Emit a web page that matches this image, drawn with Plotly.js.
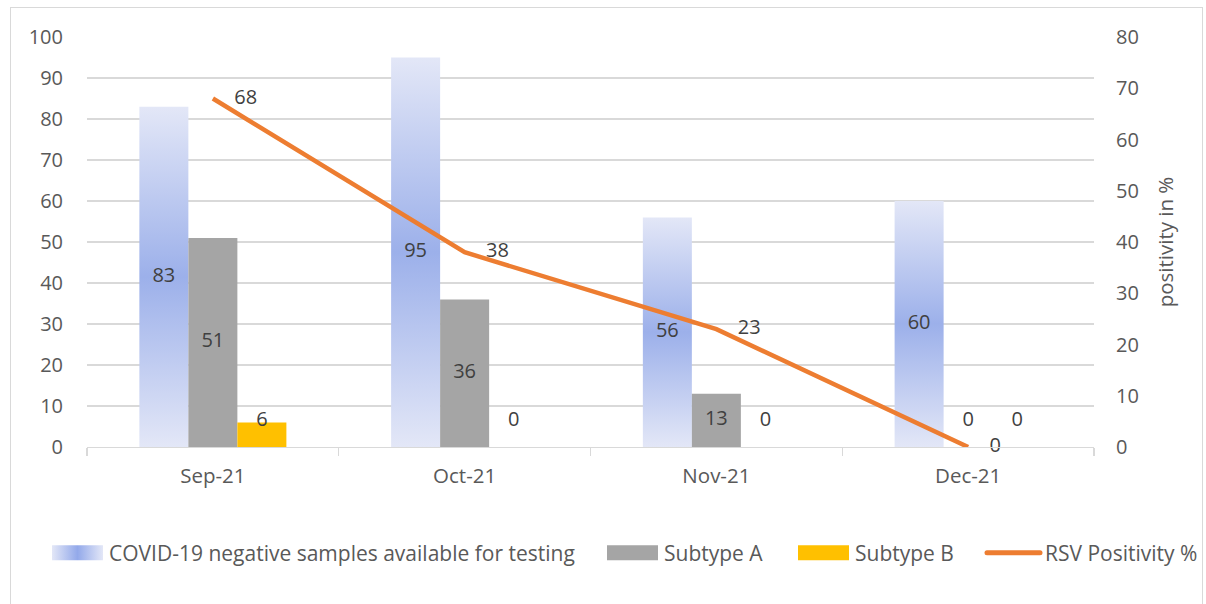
<!DOCTYPE html>
<html>
<head>
<meta charset="utf-8">
<script src="https://cdn.plot.ly/plotly-3.0.1.min.js"></script>
<style>
  html, body { margin: 0; padding: 0; background: #ffffff; }
  #wrap { position: relative; width: 1206px; height: 604px; overflow: hidden; }
  #frame { position: absolute; left: 10px; top: 7px; width: 1193px; height: 610px; border: 1px solid #d9d9d9; box-sizing: border-box; pointer-events: none; z-index: 2; }
  #chart { position: absolute; left: 0; top: 0; width: 1206px; height: 604px; }
</style>
</head>
<body>
<div id="wrap">
  <div id="chart"></div>
  <div id="frame"></div>
</div>
<script>
// ---- data ----
const months = ["Sep-21", "Oct-21", "Nov-21", "Dec-21"];
const covidNegative = [83, 95, 56, 60];
const subtypeA = [51, 36, 13, 0];
const subtypeB = [6, 0, 0, 0];
const rsvPositivity = [68, 38, 23, 0];
const leftTicks = [0, 10, 20, 30, 40, 50, 60, 70, 80, 90, 100];
const rightTicks = [0, 10, 20, 30, 40, 50, 60, 70, 80];
const seriesNames = ["COVID-19 negative samples available for testing", "Subtype A", "Subtype B", "RSV Positivity %"];

// ---- styling ----
const BARGAP = 0.416;
const LABEL_FLOOR = 6.3;        // Excel keeps small-bar labels from sinking below this level
const LINE_LABEL_SHIFT = 0.085; // gap between line point and its label, in category units
const FONT = "Open Sans, Noto Sans, sans-serif";
const LABEL_COLOR = "#404040";
const AXIS_COLOR = "#595959";
const W = 1206, H = 604;
const legendLefts = [46, 601, 792, 982]; // pixel left edge of each legend entry
const LEGEND_MID_Y = 553;                // pixel centre line of the legend row

const barW = (1 - BARGAP) / 3;
const idx = months.map((m, i) => i);
function labelTrace(values, k) {
  return {
    type: "scatter", mode: "text", xaxis: "x2", yaxis: "y",
    x: idx.map(i => i + (k - 1) * barW),
    y: values.map(v => Math.max(v / 2, LABEL_FLOOR)),
    text: values.map(String),
    textposition: "middle center",
    textfont: { family: FONT, size: 20, color: LABEL_COLOR },
    showlegend: false, hoverinfo: "skip", cliponaxis: false
  };
}

const traces = [
  { type: "bar", name: seriesNames[0], x: months, y: covidNegative, legend: "legend",
    marker: { color: "#a9b9ea" }, textposition: "none", hoverinfo: "y" },
  { type: "bar", name: seriesNames[1], x: months, y: subtypeA, legend: "legend2",
    marker: { color: "#a5a5a5" }, textposition: "none", hoverinfo: "y" },
  { type: "bar", name: seriesNames[2], x: months, y: subtypeB, legend: "legend3",
    marker: { color: "#ffc000" }, textposition: "none", hoverinfo: "y" },
  { type: "scatter", mode: "lines", name: seriesNames[3], x: months, y: rsvPositivity, yaxis: "y2", legend: "legend4",
    line: { color: "#ed7d31", width: 4.5 }, cliponaxis: false },
  { type: "scatter", mode: "text", xaxis: "x2", yaxis: "y2",
    x: idx.map(i => i + LINE_LABEL_SHIFT), y: rsvPositivity,
    text: rsvPositivity.map(String), textposition: "middle right",
    textfont: { family: FONT, size: 20, color: LABEL_COLOR },
    showlegend: false, hoverinfo: "skip", cliponaxis: false },
  labelTrace(covidNegative, 0),
  labelTrace(subtypeA, 1),
  labelTrace(subtypeB, 2)
];

function legendAt(px) {
  return { orientation: "h", xref: "container", yref: "container",
           x: px / W, xanchor: "left", y: 1 - LEGEND_MID_Y / H, yanchor: "middle",
           itemwidth: 53, bgcolor: "rgba(0,0,0,0)",
           font: { family: FONT, size: 21, color: AXIS_COLOR } };
}

const layout = {
  width: W, height: H,
  margin: { l: 87, r: 112, t: 37, b: 157 },
  paper_bgcolor: "#ffffff", plot_bgcolor: "#ffffff",
  font: { family: FONT, size: 20, color: AXIS_COLOR },
  barmode: "group", bargap: BARGAP, bargroupgap: 0,
  showlegend: true,
  legend: legendAt(legendLefts[0]),
  legend2: legendAt(legendLefts[1]),
  legend3: legendAt(legendLefts[2]),
  legend4: legendAt(legendLefts[3]),
  xaxis: {
    type: "category", showgrid: false, zeroline: false, automargin: false,
    showline: true, linecolor: "#d9d9d9", linewidth: 1.3,
    ticks: "outside", tickson: "boundaries", ticklen: 8, tickcolor: "#d9d9d9", tickwidth: 1.3,
    ticklabelstandoff: 10,
    tickfont: { family: FONT, size: 20.5, color: AXIS_COLOR }
  },
  xaxis2: { overlaying: "x", range: [-0.5, months.length - 0.5], visible: false, fixedrange: true },
  yaxis: {
    range: [0, 100], tickvals: leftTicks, ticktext: leftTicks.map(String), automargin: false,
    showgrid: true, gridcolor: "#d9d9d9", gridwidth: 1.3, zeroline: false, showline: false,
    ticks: "", ticklabelstandoff: 23,
    tickfont: { family: FONT, size: 20, color: AXIS_COLOR }
  },
  yaxis2: {
    overlaying: "y", side: "right", range: [0, 80], tickvals: rightTicks, ticktext: rightTicks.map(String),
    automargin: false,
    showgrid: false, zeroline: false, showline: false, ticks: "", ticklabelstandoff: 21,
    tickfont: { family: FONT, size: 20, color: AXIS_COLOR },
    title: { text: "positivity in %", font: { family: FONT, size: 20.5, color: AXIS_COLOR }, standoff: 20 }
  }
};

function ensureGradients(gd) {
  const svg = gd.querySelector("svg.main-svg");
  if (!svg) return;
  const ns = "http://www.w3.org/2000/svg";
  let defs = svg.querySelector("defs");
  if (!defs) { defs = document.createElementNS(ns, "defs"); svg.insertBefore(defs, svg.firstChild); }
  if (!defs.querySelector("#covGradV")) {
    const g = document.createElementNS(ns, "linearGradient");
    g.setAttribute("id", "covGradV"); g.setAttribute("x1", "0"); g.setAttribute("y1", "0");
    g.setAttribute("x2", "0"); g.setAttribute("y2", "1");
    [["0", "#e3e7f7"], ["0.5", "#9cb0ea"], ["1", "#e3e7f7"]].forEach(([o, c]) => {
      const s = document.createElementNS(ns, "stop"); s.setAttribute("offset", o); s.setAttribute("stop-color", c); g.appendChild(s);
    });
    defs.appendChild(g);
    const h = document.createElementNS(ns, "linearGradient");
    h.setAttribute("id", "covGradH"); h.setAttribute("x1", "0"); h.setAttribute("y1", "0");
    h.setAttribute("x2", "1"); h.setAttribute("y2", "0");
    [["0", "#e3e7f7"], ["0.5", "#93a9ea"], ["1", "#e3e7f7"]].forEach(([o, c]) => {
      const s = document.createElementNS(ns, "stop"); s.setAttribute("offset", o); s.setAttribute("stop-color", c); h.appendChild(s);
    });
    defs.appendChild(h);
  }
  const barTraces = gd.querySelectorAll(".barlayer .trace");
  if (barTraces.length) {
    barTraces[0].querySelectorAll("path").forEach(p => { p.style.fill = "url(#covGradV)"; });
  }
  gd.querySelectorAll("g.traces").forEach(it => {
    let name = "";
    const d = it.__data__;
    if (d && d[0] && d[0].trace) name = d[0].trace.name;
    if (!name) { const t = it.querySelector("text.legendtext"); if (t) name = t.textContent; }
    const k = seriesNames.indexOf(name);
    if (k >= 0 && k < 3) {
      it.querySelectorAll(".legendpoints path").forEach(p => {
        p.setAttribute("d", "M-25.5,-7.5h51v15h-51Z");
        p.style.strokeWidth = "0";
        if (k === 0) p.style.fill = "url(#covGradH)";
      });
    } else if (k === 3) {
      it.querySelectorAll(".legendlines path").forEach(p => {
        p.style.strokeWidth = "5px";
        p.style.strokeLinecap = "round";
      });
    }
  });
}

const gd = document.getElementById("chart");
Plotly.newPlot(gd, traces, layout, { displayModeBar: false, staticPlot: true }).then(() => {
  ensureGradients(gd);
  [0, 50, 200, 500, 1000].forEach(ms => setTimeout(() => ensureGradients(gd), ms));
});
gd.on && gd.on("plotly_afterplot", () => ensureGradients(gd));
</script>
</body>
</html>
